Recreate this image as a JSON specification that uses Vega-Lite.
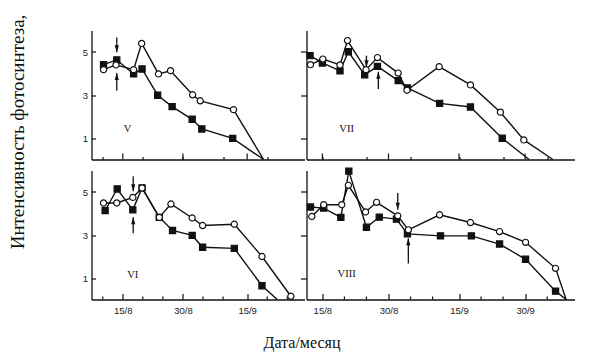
{
  "$schema": "https://vega.github.io/schema/vega-lite/v6.json",
  "background": "white",
  "padding": {"left": 7.5, "top": 13.5, "right": 5, "bottom": 2},
  "bounds": "flush",
  "columns": 2,
  "spacing": {"row": 11, "column": 2},
  "datasets": {
    "pts": [
      {"p":"V","s":"sq","d":10.2,"v":4.41},{"p":"V","s":"sq","d":13.5,"v":4.63},{"p":"V","s":"sq","d":17.7,"v":3.98},{"p":"V","s":"sq","d":19.8,"v":4.21},{"p":"V","s":"sq","d":23.7,"v":2.99},{"p":"V","s":"sq","d":27.3,"v":2.46},{"p":"V","s":"sq","d":32.3,"v":1.87},{"p":"V","s":"sq","d":34.7,"v":1.42},{"p":"V","s":"sq","d":42.4,"v":0.98},{"p":"V","s":"sq","d":50.1,"v":0},
      {"p":"V","s":"ci","d":10.2,"v":4.18},{"p":"V","s":"ci","d":13.3,"v":4.40},{"p":"V","s":"ci","d":17.7,"v":4.18},{"p":"V","s":"ci","d":19.7,"v":5.40},{"p":"V","s":"ci","d":23.9,"v":3.98},{"p":"V","s":"ci","d":26.9,"v":4.13},{"p":"V","s":"ci","d":32.4,"v":3.01},{"p":"V","s":"ci","d":34.3,"v":2.73},{"p":"V","s":"ci","d":42.6,"v":2.32},{"p":"V","s":"ci","d":50.1,"v":0},
      {"p":"VII","s":"sq","d":12.2,"v":4.83},{"p":"VII","s":"sq","d":15.0,"v":4.49},{"p":"VII","s":"sq","d":19.0,"v":4.12},{"p":"VII","s":"sq","d":20.9,"v":5.01},{"p":"VII","s":"sq","d":24.6,"v":3.94},{"p":"VII","s":"sq","d":27.5,"v":4.33},{"p":"VII","s":"sq","d":32.2,"v":3.67},{"p":"VII","s":"sq","d":34.3,"v":3.33},{"p":"VII","s":"sq","d":41.6,"v":2.61},{"p":"VII","s":"sq","d":48.6,"v":2.44},{"p":"VII","s":"sq","d":55.8,"v":0.99},{"p":"VII","s":"sq","d":61.9,"v":0},
      {"p":"VII","s":"ci","d":12.3,"v":4.41},{"p":"VII","s":"ci","d":15.1,"v":4.67},{"p":"VII","s":"ci","d":19.0,"v":4.40},{"p":"VII","s":"ci","d":20.7,"v":5.53},{"p":"VII","s":"ci","d":24.9,"v":4.18},{"p":"VII","s":"ci","d":27.5,"v":4.74},{"p":"VII","s":"ci","d":32.2,"v":4.02},{"p":"VII","s":"ci","d":34.2,"v":3.22},{"p":"VII","s":"ci","d":41.5,"v":4.32},{"p":"VII","s":"ci","d":48.6,"v":3.47},{"p":"VII","s":"ci","d":55.4,"v":2.20},{"p":"VII","s":"ci","d":60.7,"v":0.91},{"p":"VII","s":"ci","d":67.3,"v":0},
      {"p":"VI","s":"sq","d":10.6,"v":4.14},{"p":"VI","s":"sq","d":13.6,"v":5.14},{"p":"VI","s":"sq","d":17.5,"v":4.17},{"p":"VI","s":"sq","d":19.8,"v":5.19},{"p":"VI","s":"sq","d":24.1,"v":3.82},{"p":"VI","s":"sq","d":27.4,"v":3.21},{"p":"VI","s":"sq","d":32.3,"v":2.98},{"p":"VI","s":"sq","d":34.9,"v":2.43},{"p":"VI","s":"sq","d":42.8,"v":2.38},{"p":"VI","s":"sq","d":49.7,"v":0.64},{"p":"VI","s":"sq","d":53.5,"v":0},
      {"p":"VI","s":"ci","d":10.2,"v":4.49},{"p":"VI","s":"ci","d":13.5,"v":4.49},{"p":"VI","s":"ci","d":17.5,"v":4.75},{"p":"VI","s":"ci","d":19.8,"v":5.19},{"p":"VI","s":"ci","d":24.1,"v":3.82},{"p":"VI","s":"ci","d":27.0,"v":4.44},{"p":"VI","s":"ci","d":32.3,"v":3.79},{"p":"VI","s":"ci","d":34.9,"v":3.44},{"p":"VI","s":"ci","d":42.8,"v":3.50},{"p":"VI","s":"ci","d":49.7,"v":2.0},{"p":"VI","s":"ci","d":56.9,"v":0.15},
      {"p":"VIII","s":"sq","d":12.3,"v":4.30},{"p":"VIII","s":"sq","d":15.3,"v":4.25},{"p":"VIII","s":"sq","d":19.2,"v":3.82},{"p":"VIII","s":"sq","d":21.0,"v":5.97},{"p":"VIII","s":"sq","d":25.0,"v":3.36},{"p":"VIII","s":"sq","d":27.9,"v":3.83},{"p":"VIII","s":"sq","d":31.8,"v":3.74},{"p":"VIII","s":"sq","d":34.3,"v":3.05},{"p":"VIII","s":"sq","d":41.8,"v":2.96},{"p":"VIII","s":"sq","d":48.8,"v":2.96},{"p":"VIII","s":"sq","d":55.2,"v":2.58},{"p":"VIII","s":"sq","d":61.1,"v":1.87},{"p":"VIII","s":"sq","d":67.9,"v":0.39},{"p":"VIII","s":"sq","d":70.3,"v":0},
      {"p":"VIII","s":"ci","d":12.6,"v":3.86},{"p":"VIII","s":"ci","d":15.3,"v":4.41},{"p":"VIII","s":"ci","d":19.4,"v":4.41},{"p":"VIII","s":"ci","d":20.9,"v":5.31},{"p":"VIII","s":"ci","d":24.8,"v":4.07},{"p":"VIII","s":"ci","d":27.3,"v":4.52},{"p":"VIII","s":"ci","d":32.1,"v":3.89},{"p":"VIII","s":"ci","d":34.5,"v":3.24},{"p":"VIII","s":"ci","d":41.6,"v":3.94},{"p":"VIII","s":"ci","d":48.6,"v":3.58},{"p":"VIII","s":"ci","d":55.2,"v":3.16},{"p":"VIII","s":"ci","d":61.1,"v":2.66},{"p":"VIII","s":"ci","d":67.9,"v":1.45},{"p":"VIII","s":"ci","d":70.3,"v":0}
    ],
    "arrows": [
      {"p":"V","d":13.5,"y1":5.68,"y2":4.99,"dir":"down"},{"p":"V","d":13.5,"y1":3.2,"y2":4.02,"dir":"up"},
      {"p":"VII","d":25.0,"y1":4.83,"y2":4.29,"dir":"down"},{"p":"VII","d":27.7,"y1":3.28,"y2":4.08,"dir":"up"},
      {"p":"VI","d":17.6,"y1":5.73,"y2":5.03,"dir":"down"},{"p":"VI","d":17.6,"y1":3.08,"y2":3.82,"dir":"up"},
      {"p":"VIII","d":32.1,"y1":4.95,"y2":4.17,"dir":"down"},{"p":"VIII","d":34.5,"y1":1.68,"y2":2.85,"dir":"up"}
    ],
    "labels": [
      {"p":"V","d":16.2,"v":1.42},{"p":"VII","d":20.5,"v":1.42},{"p":"VI","d":17.5,"v":1.14},{"p":"VIII","d":20.5,"v":1.17}
    ],
    "major": [{"d":15},{"d":30},{"d":46},{"d":61}],
    "minor": [{"d":10},{"d":20},{"d":25},{"d":35},{"d":40},{"d":51},{"d":56},{"d":66}]
  },
  "concat": [
      {"width": 213, "height": 129,
       "layer": [
        {"data": {"name": "pts"}, "transform": [{"filter": "datum.p=='V'"}], "mark": {"type": "line", "color": "#111", "strokeWidth": 1.4},
         "encoding": {
           "x": {"field": "d", "type": "quantitative", "scale": {"domain": [7.2, 60.3], "nice": false, "zero": false},
                 "axis": {"values": [10,15,20,25,30,35,40,46,51,56], "labels": false, "title": null, "tickSize": -3}},
           "y": {"field": "v", "type": "quantitative", "scale": {"domain": [0, 6], "nice": false},
                 "axis": {"values": [1,3,5], "tickSize": -4, "labelPadding": 8, "title": "Интенсивность фотосинтеза,", "titleFont": "Liberation Serif", "titleFontSize": 19, "titleFontWeight": "normal", "titleColor": "#111", "titleAngle": 270, "titleAlign": "center", "titleBaseline": "middle", "titleX": -74, "titleY": 101}},
           "detail": {"field": "s"}}},
        {"data": {"name": "major"}, "transform": [{"filter": "datum.d < 60"}], "mark": {"type": "rule", "color": "#111", "strokeWidth": 1.2},
         "encoding": {"x": {"field": "d", "type": "quantitative"}, "y": {"datum": 0}, "y2": {"datum": 0.28}}},
        {"data": {"name": "arrows"}, "transform": [{"filter": "datum.p=='V'"}], "mark": {"type": "rule", "color": "#111", "strokeWidth": 1.3},
         "encoding": {"x": {"field": "d", "type": "quantitative"}, "y": {"field": "y1", "type": "quantitative"}, "y2": {"field": "y2"}}},
        {"data": {"name": "arrows"}, "transform": [{"filter": "datum.p=='V'"}], "mark": {"type": "point", "filled": true, "color": "#111", "size": 196, "opacity": 1},
         "encoding": {"x": {"field": "d", "type": "quantitative"}, "y": {"field": "y2", "type": "quantitative"},
           "shape": {"field": "dir", "type": "nominal", "legend": null, "scale": {"domain": ["ci","sq","down","up"], "range": ["circle","square","M0,0L-0.3,-1L0.3,-1Z","M0,0L-0.3,1L0.3,1Z"]}}}},
        {"data": {"name": "pts"}, "transform": [{"filter": "datum.p=='V' && datum.v > 0.05"}], "mark": {"type": "point", "stroke": "#111", "strokeWidth": 1.2, "size": 38, "opacity": 1},
         "encoding": {"x": {"field": "d", "type": "quantitative"}, "y": {"field": "v", "type": "quantitative"},
           "shape": {"field": "s", "type": "nominal", "legend": null, "scale": {"domain": ["ci","sq","down","up"], "range": ["circle","square","M0,0L-0.3,-1L0.3,-1Z","M0,0L-0.3,1L0.3,1Z"]}},
           "fill": {"field": "s", "type": "nominal", "legend": null, "scale": {"domain": ["ci","sq"], "range": ["white","#111"]}}}},
        {"data": {"name": "labels"}, "transform": [{"filter": "datum.p=='V'"}], "mark": {"type": "text", "font": "Liberation Serif", "fontSize": 10.5, "color": "#111", "align": "center", "baseline": "middle"},
         "encoding": {"x": {"field": "d", "type": "quantitative"}, "y": {"field": "v", "type": "quantitative"}, "text": {"field": "p"}}}
       ]},
      {"width": 268, "height": 129,
       "layer": [
        {"data": {"name": "pts"}, "transform": [{"filter": "datum.p=='VII'"}], "mark": {"type": "line", "color": "#111", "strokeWidth": 1.4},
         "encoding": {
           "x": {"field": "d", "type": "quantitative", "scale": {"domain": [11.4, 72.2], "nice": false, "zero": false},
                 "axis": {"values": [15,20,25,30,35,40,46,51,56,61,66], "labels": false, "title": null, "tickSize": -3}},
           "y": {"field": "v", "type": "quantitative", "scale": {"domain": [0, 6], "nice": false},
                 "axis": {"values": [1,3,5], "labels": false, "tickSize": 6, "title": null}},
           "detail": {"field": "s"}}},
        {"data": {"name": "major"}, "mark": {"type": "rule", "color": "#111", "strokeWidth": 1.2},
         "encoding": {"x": {"field": "d", "type": "quantitative"}, "y": {"datum": 0}, "y2": {"datum": 0.28}}},
        {"data": {"name": "arrows"}, "transform": [{"filter": "datum.p=='VII'"}], "mark": {"type": "rule", "color": "#111", "strokeWidth": 1.3},
         "encoding": {"x": {"field": "d", "type": "quantitative"}, "y": {"field": "y1", "type": "quantitative"}, "y2": {"field": "y2"}}},
        {"data": {"name": "arrows"}, "transform": [{"filter": "datum.p=='VII'"}], "mark": {"type": "point", "filled": true, "color": "#111", "size": 196, "opacity": 1},
         "encoding": {"x": {"field": "d", "type": "quantitative"}, "y": {"field": "y2", "type": "quantitative"},
           "shape": {"field": "dir", "type": "nominal", "legend": null, "scale": {"domain": ["ci","sq","down","up"], "range": ["circle","square","M0,0L-0.3,-1L0.3,-1Z","M0,0L-0.3,1L0.3,1Z"]}}}},
        {"data": {"name": "pts"}, "transform": [{"filter": "datum.p=='VII' && datum.v > 0.05"}], "mark": {"type": "point", "stroke": "#111", "strokeWidth": 1.2, "size": 38, "opacity": 1},
         "encoding": {"x": {"field": "d", "type": "quantitative"}, "y": {"field": "v", "type": "quantitative"},
           "shape": {"field": "s", "type": "nominal", "legend": null, "scale": {"domain": ["ci","sq","down","up"], "range": ["circle","square","M0,0L-0.3,-1L0.3,-1Z","M0,0L-0.3,1L0.3,1Z"]}},
           "fill": {"field": "s", "type": "nominal", "legend": null, "scale": {"domain": ["ci","sq"], "range": ["white","#111"]}}}},
        {"data": {"name": "labels"}, "transform": [{"filter": "datum.p=='VII'"}], "mark": {"type": "text", "font": "Liberation Serif", "fontSize": 10.5, "color": "#111", "align": "center", "baseline": "middle"},
         "encoding": {"x": {"field": "d", "type": "quantitative"}, "y": {"field": "v", "type": "quantitative"}, "text": {"field": "p"}}}
       ]},
      {"width": 213, "height": 129,
       "layer": [
        {"data": {"name": "pts"}, "transform": [{"filter": "datum.p=='VI'"}], "mark": {"type": "line", "color": "#111", "strokeWidth": 1.4},
         "encoding": {
           "x": {"field": "d", "type": "quantitative", "scale": {"domain": [7.2, 60.3], "nice": false, "zero": false},
                 "axis": {"values": [15,30,46], "labelOverlap": false, "labelExpr": "datum.value==15?'15/8':datum.value==30?'30/8':datum.value==46?'15/9':'30/9'", "labelPadding": 12, "labelBaseline": "top", "title": "Дата/месяц", "titleFont": "Liberation Serif", "titleFontSize": 16, "titleFontWeight": "normal", "titleColor": "#111", "titleX": 210, "titleY": 42.5, "titleBaseline": "middle", "titleAlign": "center", "tickSize": -6}},
           "y": {"field": "v", "type": "quantitative", "scale": {"domain": [0, 6], "nice": false},
                 "axis": {"values": [1,3,5], "tickSize": -4, "labelPadding": 8, "title": null}},
           "detail": {"field": "s"}}},
        {"data": {"name": "minor"}, "transform": [{"filter": "datum.d < 60"}], "mark": {"type": "rule", "color": "#111", "strokeWidth": 1.2},
         "encoding": {"x": {"field": "d", "type": "quantitative"}, "y": {"datum": 0}, "y2": {"datum": 0.14}}},
        {"data": {"name": "arrows"}, "transform": [{"filter": "datum.p=='VI'"}], "mark": {"type": "rule", "color": "#111", "strokeWidth": 1.3},
         "encoding": {"x": {"field": "d", "type": "quantitative"}, "y": {"field": "y1", "type": "quantitative"}, "y2": {"field": "y2"}}},
        {"data": {"name": "arrows"}, "transform": [{"filter": "datum.p=='VI'"}], "mark": {"type": "point", "filled": true, "color": "#111", "size": 196, "opacity": 1},
         "encoding": {"x": {"field": "d", "type": "quantitative"}, "y": {"field": "y2", "type": "quantitative"},
           "shape": {"field": "dir", "type": "nominal", "legend": null, "scale": {"domain": ["ci","sq","down","up"], "range": ["circle","square","M0,0L-0.3,-1L0.3,-1Z","M0,0L-0.3,1L0.3,1Z"]}}}},
        {"data": {"name": "pts"}, "transform": [{"filter": "datum.p=='VI' && datum.v > 0.05"}], "mark": {"type": "point", "stroke": "#111", "strokeWidth": 1.2, "size": 38, "opacity": 1},
         "encoding": {"x": {"field": "d", "type": "quantitative"}, "y": {"field": "v", "type": "quantitative"},
           "shape": {"field": "s", "type": "nominal", "legend": null, "scale": {"domain": ["ci","sq","down","up"], "range": ["circle","square","M0,0L-0.3,-1L0.3,-1Z","M0,0L-0.3,1L0.3,1Z"]}},
           "fill": {"field": "s", "type": "nominal", "legend": null, "scale": {"domain": ["ci","sq"], "range": ["white","#111"]}}}},
        {"data": {"name": "labels"}, "transform": [{"filter": "datum.p=='VI'"}], "mark": {"type": "text", "font": "Liberation Serif", "fontSize": 10.5, "color": "#111", "align": "center", "baseline": "middle"},
         "encoding": {"x": {"field": "d", "type": "quantitative"}, "y": {"field": "v", "type": "quantitative"}, "text": {"field": "p"}}}
       ]},
      {"width": 268, "height": 129,
       "layer": [
        {"data": {"name": "pts"}, "transform": [{"filter": "datum.p=='VIII'"}], "mark": {"type": "line", "color": "#111", "strokeWidth": 1.4},
         "encoding": {
           "x": {"field": "d", "type": "quantitative", "scale": {"domain": [11.4, 72.2], "nice": false, "zero": false},
                 "axis": {"values": [15,30,46,61], "labelOverlap": false, "labelExpr": "datum.value==15?'15/8':datum.value==30?'30/8':datum.value==46?'15/9':'30/9'", "labelPadding": 12, "labelBaseline": "top", "title": null, "tickSize": -6}},
           "y": {"field": "v", "type": "quantitative", "scale": {"domain": [0, 6], "nice": false},
                 "axis": {"values": [1,3,5], "labels": false, "tickSize": 6, "title": null}},
           "detail": {"field": "s"}}},
        {"data": {"name": "minor"}, "transform": [{"filter": "datum.d > 12"}], "mark": {"type": "rule", "color": "#111", "strokeWidth": 1.2},
         "encoding": {"x": {"field": "d", "type": "quantitative"}, "y": {"datum": 0}, "y2": {"datum": 0.14}}},
        {"data": {"name": "arrows"}, "transform": [{"filter": "datum.p=='VIII'"}], "mark": {"type": "rule", "color": "#111", "strokeWidth": 1.3},
         "encoding": {"x": {"field": "d", "type": "quantitative"}, "y": {"field": "y1", "type": "quantitative"}, "y2": {"field": "y2"}}},
        {"data": {"name": "arrows"}, "transform": [{"filter": "datum.p=='VIII'"}], "mark": {"type": "point", "filled": true, "color": "#111", "size": 196, "opacity": 1},
         "encoding": {"x": {"field": "d", "type": "quantitative"}, "y": {"field": "y2", "type": "quantitative"},
           "shape": {"field": "dir", "type": "nominal", "legend": null, "scale": {"domain": ["ci","sq","down","up"], "range": ["circle","square","M0,0L-0.3,-1L0.3,-1Z","M0,0L-0.3,1L0.3,1Z"]}}}},
        {"data": {"name": "pts"}, "transform": [{"filter": "datum.p=='VIII' && datum.v > 0.05"}], "mark": {"type": "point", "stroke": "#111", "strokeWidth": 1.2, "size": 38, "opacity": 1},
         "encoding": {"x": {"field": "d", "type": "quantitative"}, "y": {"field": "v", "type": "quantitative"},
           "shape": {"field": "s", "type": "nominal", "legend": null, "scale": {"domain": ["ci","sq","down","up"], "range": ["circle","square","M0,0L-0.3,-1L0.3,-1Z","M0,0L-0.3,1L0.3,1Z"]}},
           "fill": {"field": "s", "type": "nominal", "legend": null, "scale": {"domain": ["ci","sq"], "range": ["white","#111"]}}}},
        {"data": {"name": "labels"}, "transform": [{"filter": "datum.p=='VIII'"}], "mark": {"type": "text", "font": "Liberation Serif", "fontSize": 10.5, "color": "#111", "align": "center", "baseline": "middle"},
         "encoding": {"x": {"field": "d", "type": "quantitative"}, "y": {"field": "v", "type": "quantitative"}, "text": {"field": "p"}}}
       ]}
  ],
  "config": {
    "view": {"stroke": null},
    "axis": {"grid": false, "domainColor": "#111", "domainWidth": 1.3, "tickColor": "#111", "tickWidth": 1.2, "labelFont": "Liberation Sans", "labelFontSize": 9.5, "labelColor": "#222"}
  }
}
